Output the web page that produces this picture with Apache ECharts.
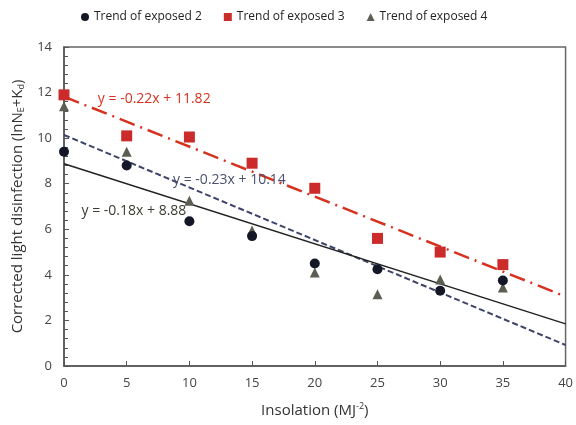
<!DOCTYPE html>
<html>
  <head>
    <meta charset="utf-8" />
    <title>Corrected light disinfection</title>
    <script src="https://cdnjs.cloudflare.com/ajax/libs/echarts/6.0.0/echarts.min.js"></script>
    <style>
      html, body { margin: 0; padding: 0; background: #fff; }
      #main { width: 576px; height: 425px; }
    </style>
  </head>
  <body>
    <div id="main"></div>
    <script type="text/javascript">
      // insolation values (x)
      var insolation = [0, 5, 10, 15, 20, 25, 30, 35];
      // measured points
      var exposed2 = [9.4, 8.8, 6.35, 5.7, 4.5, 4.25, 3.3, 3.75];
      var exposed3 = [11.9, 10.1, 10.05, 8.9, 7.8, 5.6, 5.0, 4.45];
      var exposed4 = [11.4, 9.4, 7.25, 5.95, 4.1, 3.15, 3.8, 3.45];
      // trend lines, values read at x = 0 and x = 40
      var trendX = [0, 40];
      var trend2 = [8.88, 1.85];
      var trend3 = [11.82, 3.05];
      var trend4 = [10.14, 0.92];
      var seriesNames = ['Trend of exposed 2', 'Trend of exposed 3', 'Trend of exposed 4'];
      var equations = ['y = -0.18x + 8.88', 'y = -0.22x + 11.82', 'y = -0.23x + 10.14'];

      var FONT = '"Open Sans", sans-serif';

      function pairs(xs, ys) {
        return xs.map(function (x, i) { return [x, ys[i]]; });
      }

      var chart = echarts.init(document.getElementById('main'), null, { renderer: 'canvas' });

      var option = {
        animation: false,
        textStyle: { fontFamily: FONT },
        legend: {
          top: 6,
          left: 76,
          itemWidth: 8,
          itemHeight: 8,
          itemGap: 22,
          textStyle: { fontSize: 12, color: '#222', fontFamily: FONT },
          data: [
            { name: seriesNames[0], icon: 'circle' },
            { name: seriesNames[1], icon: 'rect' },
            { name: seriesNames[2], icon: 'triangle' }
          ]
        },
        grid: {
          left: 64,
          right: 9,
          top: 47,
          bottom: 59,
          show: true,
          borderColor: '#666',
          borderWidth: 1.5
        },
        xAxis: {
          type: 'value',
          min: 0,
          max: 40,
          interval: 5,
          name: 'Insolation (MJ{sup|-2})',
          nameLocation: 'middle',
          nameGap: 36,
          nameTextStyle: {
            fontSize: 15, color: '#333', fontFamily: FONT,
            rich: { sup: { fontSize: 9, verticalAlign: 'top', padding: [0, 0, 9, 0], color: '#333' } }
          },
          axisLine: { lineStyle: { color: '#555', width: 1.5 } },
          axisTick: { inside: true, length: 5, lineStyle: { color: '#555' } },
          axisLabel: { fontSize: 13, color: '#444', margin: 11 },
          splitLine: { show: false }
        },
        yAxis: {
          type: 'value',
          min: 0,
          max: 14,
          interval: 2,
          name: 'Corrected light disinfection (lnN{sub|E}+K{sub|d})',
          nameLocation: 'middle',
          nameGap: 38,
          nameTextStyle: {
            fontSize: 15, color: '#333', fontFamily: FONT,
            rich: { sub: { fontSize: 9, verticalAlign: 'bottom', padding: [7, 0, 0, 0], color: '#333' } }
          },
          axisLine: { show: true, lineStyle: { color: '#555', width: 1.5 } },
          axisTick: { inside: true, length: 5, lineStyle: { color: '#555' } },
          minorTick: { show: true, splitNumber: 5, length: 4, lineStyle: { color: '#555' } },
          axisLabel: { fontSize: 13, color: '#444', margin: 12 },
          splitLine: { show: false }
        },
        series: [
          {
            name: 'trend3',
            type: 'line',
            data: pairs(trendX, trend3),
            symbol: 'none',
            silent: true,
            lineStyle: { color: '#d7321f', width: 2.5, type: [16, 6, 2, 6] },
            markPoint: {
              symbol: 'circle', symbolSize: 0,
              data: [{ coord: [2.3, 11.72], value: equations[1] }],
              label: { show: true, position: 'right', formatter: '{c}', fontSize: 14, color: '#d7321f', fontFamily: FONT }
            },
            z: 2
          },
          {
            name: 'trend4',
            type: 'line',
            data: pairs(trendX, trend4),
            symbol: 'none',
            silent: true,
            lineStyle: { color: '#3e4468', width: 2, type: [6, 3] },
            markPoint: {
              symbol: 'circle', symbolSize: 0,
              data: [{ coord: [8.3, 8.15], value: equations[2] }],
              label: { show: true, position: 'right', formatter: '{c}', fontSize: 14, color: '#4a5270', fontFamily: FONT }
            },
            z: 2
          },
          {
            name: 'trend2',
            type: 'line',
            data: pairs(trendX, trend2),
            symbol: 'none',
            silent: true,
            lineStyle: { color: '#222', width: 1.5 },
            markPoint: {
              symbol: 'circle', symbolSize: 0,
              data: [{ coord: [1.0, 6.8], value: equations[0] }],
              label: { show: true, position: 'right', formatter: '{c}', fontSize: 14, color: '#3a3d30', fontFamily: FONT }
            },
            z: 2
          },
          {
            name: seriesNames[2],
            type: 'scatter',
            data: pairs(insolation, exposed4),
            symbol: 'triangle',
            symbolSize: 10,
            itemStyle: { color: '#5b5f52', opacity: 1 },
            z: 3
          },
          {
            name: seriesNames[0],
            type: 'scatter',
            data: pairs(insolation, exposed2),
            symbol: 'circle',
            symbolSize: 10,
            itemStyle: { color: '#141826', opacity: 1 },
            z: 4
          },
          {
            name: seriesNames[1],
            type: 'scatter',
            data: pairs(insolation, exposed3),
            symbol: 'rect',
            symbolSize: 11,
            itemStyle: { color: '#cc2b2b', opacity: 1 },
            z: 5
          }
        ]
      };

      chart.setOption(option);
    </script>
  </body>
</html>
